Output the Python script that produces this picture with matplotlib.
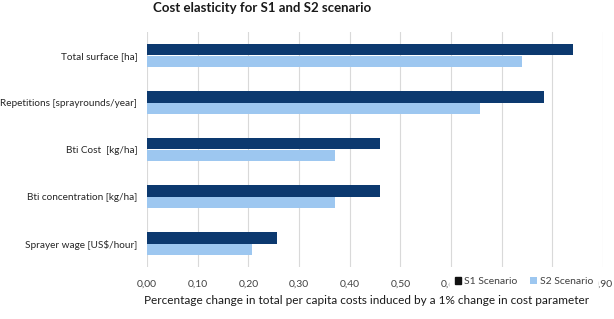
import numpy as np
import matplotlib.pyplot as plt

plt.rcParams['font.family'] = ['Lato', 'DejaVu Sans']

categories = ["Total surface [ha]", "Repetitions [sprayrounds/year]", "Bti Cost  [kg/ha]",
              "Bti concentration [kg/ha]", "Sprayer wage [US$/hour]"]
s1 = [0.841, 0.784, 0.459, 0.459, 0.257]
s2 = [0.741, 0.657, 0.372, 0.372, 0.208]
xticks = np.arange(0, 0.91, 0.1)
xtick_labels = [("%.2f" % v).replace('.', ',') for v in xticks]

W, H = 614, 319
fig = plt.figure(figsize=(W/100, H/100), dpi=100)
ax = fig.add_axes([147/W, 1-267/H, (603-147)/W, (267-32)/H])

y = np.arange(len(categories))
bh = 0.255
ax.barh(y - bh/2, s1, height=bh, color='#0c396f', label='S1 Scenario', zorder=3)
ax.barh(y + bh/2, s2, height=bh, color='#9dc7f0', label='S2 Scenario', zorder=3)

ax.set_ylim(len(categories)-0.5, -0.5)
ax.set_yticks(y)
ax.set_yticklabels(categories, fontsize=7.2, color='#262626')
ax.set_xlim(0, 0.9)
ax.set_xticks(xticks)
ax.set_xticklabels(xtick_labels, fontsize=7.5, color='#404040')
ax.tick_params(axis='both', length=0)
ax.tick_params(axis='x', pad=9)
ax.tick_params(axis='y', pad=7)
ax.grid(axis='x', color='#d9d9d9', linewidth=0.8, zorder=0)
for sp in ax.spines.values():
    sp.set_visible(False)

fig.text(262/W, 1-8.5/H, "Cost elasticity for S1 and S2 scenario", ha='center', va='center',
         fontsize=9.5, fontweight='bold', color='#1a1a1a')
fig.text(367/W, 1-300.7/H,
         "Percentage change in total per capita costs induced by a 1% change in cost parameter",
         ha='center', va='center', fontsize=8.5, color='#1a1a1a')

leg = ax.legend(loc='center', bbox_to_anchor=(524/W, 1-281.7/H), bbox_transform=fig.transFigure,
                ncol=2, fontsize=7.5, frameon=True, fancybox=False, framealpha=1,
                handlelength=0.6, handleheight=0.6, handletextpad=0.3, columnspacing=1.2,
                borderpad=0.3, borderaxespad=0)
leg.get_frame().set_edgecolor('white')
leg.get_frame().set_facecolor('white')
leg.get_frame().set_linewidth(4)
leg.legend_handles[0].set_color('#111111')
for t in leg.get_texts():
    t.set_color('#404040')

fig.savefig('out.png', dpi=100)
